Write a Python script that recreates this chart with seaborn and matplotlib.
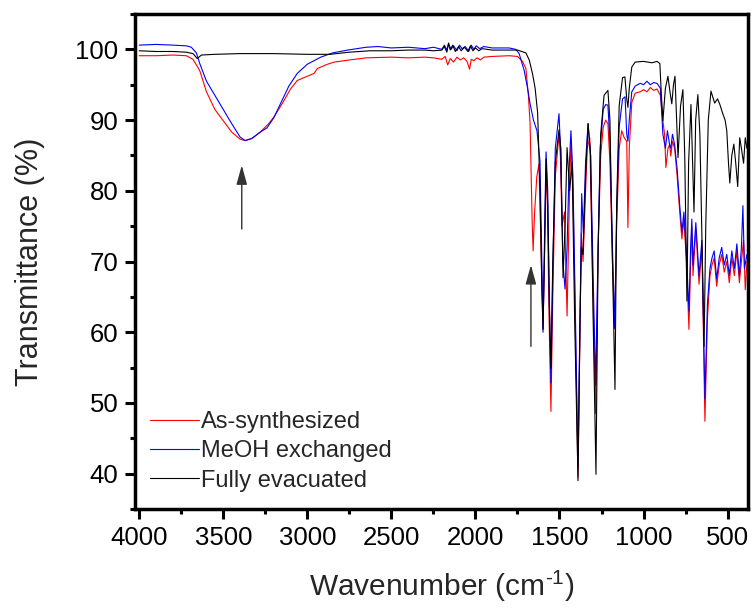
import numpy as np
import pandas as pd
import matplotlib
matplotlib.use("Agg")
import matplotlib.pyplot as plt
from matplotlib.ticker import MultipleLocator
import seaborn as sns

# ---------------- data ----------------
series_names = ["As-synthesized", "MeOH exchanged", "Fully evacuated"]
series_colors = ["#ff0000", "#0000ff", "#000000"]

wn_red = [4000, 3900, 3800, 3720, 3680, 3640, 3600, 3550, 3500, 3450, 3400, 3370, 3330, 3280,
          3230, 3200, 3150, 3100, 3060, 3000, 2960, 2940, 2920, 2880, 2840, 2750, 2650, 2500,
          2400, 2300, 2250, 2200, 2180, 2165, 2150, 2130, 2110, 2090, 2070, 2050, 2035, 2025,
          2010, 1990, 1970, 1950, 1900, 1800, 1750, 1720, 1700, 1685, 1675, 1663, 1657, 1648,
          1635, 1622, 1610, 1598, 1588, 1580, 1572, 1562, 1551, 1540, 1525, 1503, 1495, 1485,
          1470, 1455, 1442, 1432, 1420, 1405, 1390, 1378, 1370, 1360, 1348, 1335, 1320, 1305,
          1285, 1270, 1255, 1240, 1225, 1212, 1200, 1185, 1172, 1160, 1145, 1130, 1115, 1100,
          1093, 1085, 1070, 1050, 1020, 1000, 980, 960, 940, 920, 900, 885, 875, 867, 855, 845,
          838, 828, 815, 800, 785, 772, 760, 745, 730, 720, 713, 706, 689, 670, 653, 635, 620,
          605, 593, 580, 565, 550, 535, 520, 505, 490, 475, 460, 445, 430, 418, 405, 395, 385]
t_red = [99.1, 99.1, 99.2, 99.1, 98.6, 97.0, 94.0, 91.5, 89.9, 88.3, 87.3, 87.1, 87.4, 88.3,
         89.5, 90.4, 92.3, 94.4, 95.6, 96.2, 96.6, 97.3, 97.5, 97.9, 98.2, 98.5, 98.8, 98.9,
         98.8, 98.9, 98.8, 98.6, 99.0, 97.8, 98.7, 98.2, 98.9, 98.5, 98.8, 98.3, 97.2, 98.6,
         98.4, 98.8, 98.5, 98.9, 99.0, 99.1, 99.0, 98.3, 97.3, 93.5, 89.5, 76.0, 71.5, 77.0,
         82.0, 83.8, 72.0, 60.5, 72.0, 83.0, 78.0, 62.0, 48.8, 65.0, 82.0, 88.0, 85.0, 75.0,
         77.0, 62.3, 78.0, 87.0, 80.0, 60.0, 39.5, 60.0, 74.0, 70.0, 78.0, 86.0, 87.5, 70.0,
         48.5, 72.0, 85.0, 89.0, 90.0, 89.5, 84.0, 70.0, 60.5, 75.0, 86.0, 88.5, 87.5, 87.0,
         74.8, 86.0, 92.5, 93.8, 94.0, 94.3, 94.0, 94.6, 94.2, 94.4, 93.5, 89.9, 88.0, 83.3,
         86.0, 86.5, 84.9, 87.0, 86.0, 82.0, 77.0, 73.2, 76.0, 70.0, 60.4, 70.0, 75.0, 68.0,
         74.6, 66.8, 72.0, 47.4, 62.0, 68.0, 69.5, 70.5, 66.5, 69.5, 71.0, 68.5, 70.0, 67.0,
         70.5, 68.0, 71.5, 67.0, 70.0, 73.0, 66.0, 70.0]

wn_blue = [4000, 3900, 3800, 3720, 3690, 3660, 3640, 3600, 3550, 3500, 3450, 3400, 3370, 3330,
           3280, 3240, 3200, 3160, 3110, 3060, 3000, 2920, 2850, 2760, 2650, 2580, 2500, 2400,
           2300, 2250, 2200, 2185, 2170, 2160, 2145, 2130, 2110, 2095, 2080, 2060, 2040, 2025,
           2010, 1995, 1975, 1950, 1900, 1800, 1760, 1740, 1710, 1690, 1675, 1655, 1634, 1616,
           1605, 1598, 1588, 1580, 1570, 1560, 1551, 1540, 1525, 1503, 1492, 1480, 1467, 1455,
           1443, 1432, 1420, 1405, 1390, 1378, 1368, 1358, 1345, 1330, 1315, 1300, 1285, 1272,
           1258, 1240, 1225, 1212, 1200, 1185, 1172, 1160, 1145, 1125, 1110, 1100, 1093, 1085,
           1070, 1050, 1020, 1000, 980, 960, 940, 920, 900, 885, 870, 858, 845, 838, 828, 815,
           800, 785, 772, 760, 745, 730, 720, 713, 706, 689, 670, 653, 635, 620, 605, 593, 580,
           565, 550, 535, 520, 505, 490, 475, 460, 445, 430, 418, 409, 400, 385]
t_blue = [100.6, 100.7, 100.6, 100.5, 100.3, 99.5, 98.0, 95.5, 93.5, 91.5, 89.5, 87.6, 87.1,
          87.4, 88.3, 88.9, 90.3, 92.3, 94.8, 96.6, 97.9, 98.9, 99.5, 99.9, 100.3, 100.4,
          100.2, 100.3, 100.1, 100.3, 100.0, 100.6, 99.9, 100.8, 100.0, 100.5, 99.8, 100.6,
          100.1, 100.4, 99.7, 100.6, 100.0, 100.5, 100.1, 100.4, 100.2, 100.2, 100.0, 99.4,
          97.0, 94.5, 92.3, 90.0, 88.5, 84.2, 70.0, 60.0, 75.0, 85.5, 80.0, 63.0, 52.8, 68.0,
          86.0, 90.9, 85.0, 70.0, 66.1, 72.0, 83.0, 88.5, 82.0, 62.0, 41.0, 62.0, 79.6, 74.0,
          84.0, 89.5, 85.0, 68.0, 52.5, 70.0, 86.0, 91.5, 92.2, 92.1, 87.0, 72.0, 60.6, 77.0,
          89.0, 93.0, 93.3, 88.0, 87.0, 90.0, 94.0, 94.8, 95.2, 95.0, 95.5, 95.0, 95.3, 95.2,
          94.5, 88.0, 86.0, 88.5, 86.5, 86.0, 88.0, 86.5, 83.0, 78.0, 74.2, 77.0, 71.0, 63.0,
          72.0, 76.0, 69.5, 75.5, 68.0, 73.0, 50.6, 64.0, 69.0, 70.5, 71.5, 67.5, 70.5, 72.0,
          69.5, 71.0, 68.0, 71.5, 69.0, 72.5, 68.0, 72.0, 77.9, 69.0, 71.0]

wn_black = [4000, 3900, 3800, 3720, 3680, 3655, 3630, 3550, 3400, 3200, 3000, 2864, 2750, 2627,
            2500, 2400, 2300, 2250, 2200, 2185, 2170, 2160, 2150, 2135, 2120, 2100, 2085, 2065,
            2045, 2030, 2015, 2000, 1980, 1960, 1900, 1800, 1750, 1700, 1680, 1660, 1645, 1630,
            1616, 1605, 1598, 1590, 1580, 1570, 1560, 1551, 1540, 1525, 1503, 1492, 1479, 1467,
            1455, 1440, 1425, 1410, 1390, 1378, 1370, 1360, 1345, 1330, 1315, 1300, 1283, 1270,
            1255, 1235, 1212, 1200, 1185, 1170, 1160, 1145, 1125, 1111, 1100, 1093, 1085, 1070,
            1050, 1000, 950, 920, 903, 895, 885, 870, 855, 843, 832, 822, 813, 803, 795, 780,
            766, 755, 742, 732, 718, 708, 700, 690, 677, 665, 650, 640, 630, 615, 599, 585, 577,
            560, 546, 530, 515, 505, 495, 487, 475, 463, 452, 440, 428, 418, 405, 395, 385]
t_black = [99.8, 99.7, 99.7, 99.6, 99.4, 98.7, 99.2, 99.3, 99.4, 99.4, 99.3, 99.3, 99.6, 99.8,
           99.8, 99.9, 99.9, 99.8, 99.9, 100.4, 99.6, 100.9, 99.9, 100.6, 99.7, 100.4, 99.8,
           100.3, 99.7, 100.5, 99.8, 100.2, 99.8, 100.1, 99.9, 99.9, 99.9, 99.5, 98.5, 96.5,
           94.5, 91.0, 80.0, 66.0, 60.4, 70.0, 84.5, 78.0, 64.0, 54.9, 70.0, 84.0, 88.6, 86.0,
           67.7, 75.0, 86.1, 80.0, 84.0, 62.0, 39.0, 62.0, 72.0, 71.0, 82.0, 89.5, 85.0, 62.0,
           39.9, 72.0, 88.0, 93.5, 94.2, 90.0, 70.0, 51.9, 78.0, 92.0, 96.0, 96.1, 93.0, 91.8,
           94.5, 97.5, 98.2, 98.3, 98.1, 98.3, 98.0, 94.0, 89.9, 94.5, 96.2, 94.0, 92.3, 95.0,
           96.2, 90.0, 84.7, 92.0, 94.3, 85.0, 64.4, 84.0, 92.2, 84.0, 77.0, 90.0, 93.6, 88.0,
           70.0, 58.0, 75.0, 90.0, 94.1, 93.0, 92.4, 93.0, 92.2, 91.0, 90.0, 88.5, 84.0, 81.1,
           85.0, 86.6, 84.0, 80.6, 87.5, 86.0, 83.9, 87.5, 86.0]

x_ticks = [4000, 3500, 3000, 2500, 2000, 1500, 1000, 500]
y_ticks = [40, 50, 60, 70, 80, 90, 100]

# arrows: (wavenumber, tail %T, head %T)
arrow_wn = [3390, 1670]
arrow_tail = [74.6, 58.0]
arrow_head = [83.6, 69.5]

# ---------------- build long-form table ----------------
frames = []
for name, wn, t in zip(series_names, [wn_red, wn_blue, wn_black], [t_red, t_blue, t_black]):
    frames.append(pd.DataFrame({"Wavenumber": wn, "T": t, "Sample": name}))
df = pd.concat(frames, ignore_index=True)

# ---------------- style ----------------
sns.set_style("ticks")
plt.rcParams["font.family"] = ["Liberation Sans", "DejaVu Sans"]
plt.rcParams["mathtext.fontset"] = "custom"
plt.rcParams["mathtext.rm"] = "Liberation Sans"
plt.rcParams["mathtext.it"] = "Liberation Sans:italic"
plt.rcParams["mathtext.bf"] = "Liberation Sans:bold"

fig = plt.figure(figsize=(7.53, 6.09), dpi=100)
ax = fig.add_axes([0.1793, 0.1642, 0.814, 0.8128])

sns.lineplot(data=df, x="Wavenumber", y="T", hue="Sample", hue_order=series_names,
             palette=dict(zip(series_names, series_colors)), estimator=None, sort=False,
             linewidth=0.8, ax=ax)

ax.set_xlim(4025, 379)
ax.set_ylim(35, 105)
ax.set_xticks(x_ticks)
ax.set_yticks(y_ticks)
ax.xaxis.set_minor_locator(MultipleLocator(250))
ax.yaxis.set_minor_locator(MultipleLocator(5))
ax.tick_params(which="major", direction="out", length=7, width=2.2, labelsize=18.5,
               pad=5, color="black", labelcolor="black")
ax.tick_params(which="minor", direction="out", length=3.8, width=2.2, color="black")
for s in ax.spines.values():
    s.set_visible(True)
    s.set_linewidth(2.5)
    s.set_color("black")

ax.set_xlabel(r"Wavenumber (cm$^{\text{-1}}$)", fontsize=21.5, labelpad=14)
ax.set_ylabel("Transmittance (%)", fontsize=22, labelpad=22)

# arrows
for xw, t0, t1 in zip(arrow_wn, arrow_tail, arrow_head):
    ax.annotate("", xy=(xw, t1), xytext=(xw, t0),
                arrowprops=dict(arrowstyle="-|>,head_length=0.9,head_width=0.25",
                                color="#333333", lw=1.0, mutation_scale=13,
                                shrinkA=0, shrinkB=0))

handles, labels = ax.get_legend_handles_labels()
ax.legend(handles, labels, loc="lower left", bbox_to_anchor=(0.024, 0.035),
          frameon=False, fontsize=17, handlelength=2.1, handletextpad=0.08,
          labelspacing=0.31, borderpad=0, borderaxespad=0)

fig.savefig("out.png", dpi=100)
